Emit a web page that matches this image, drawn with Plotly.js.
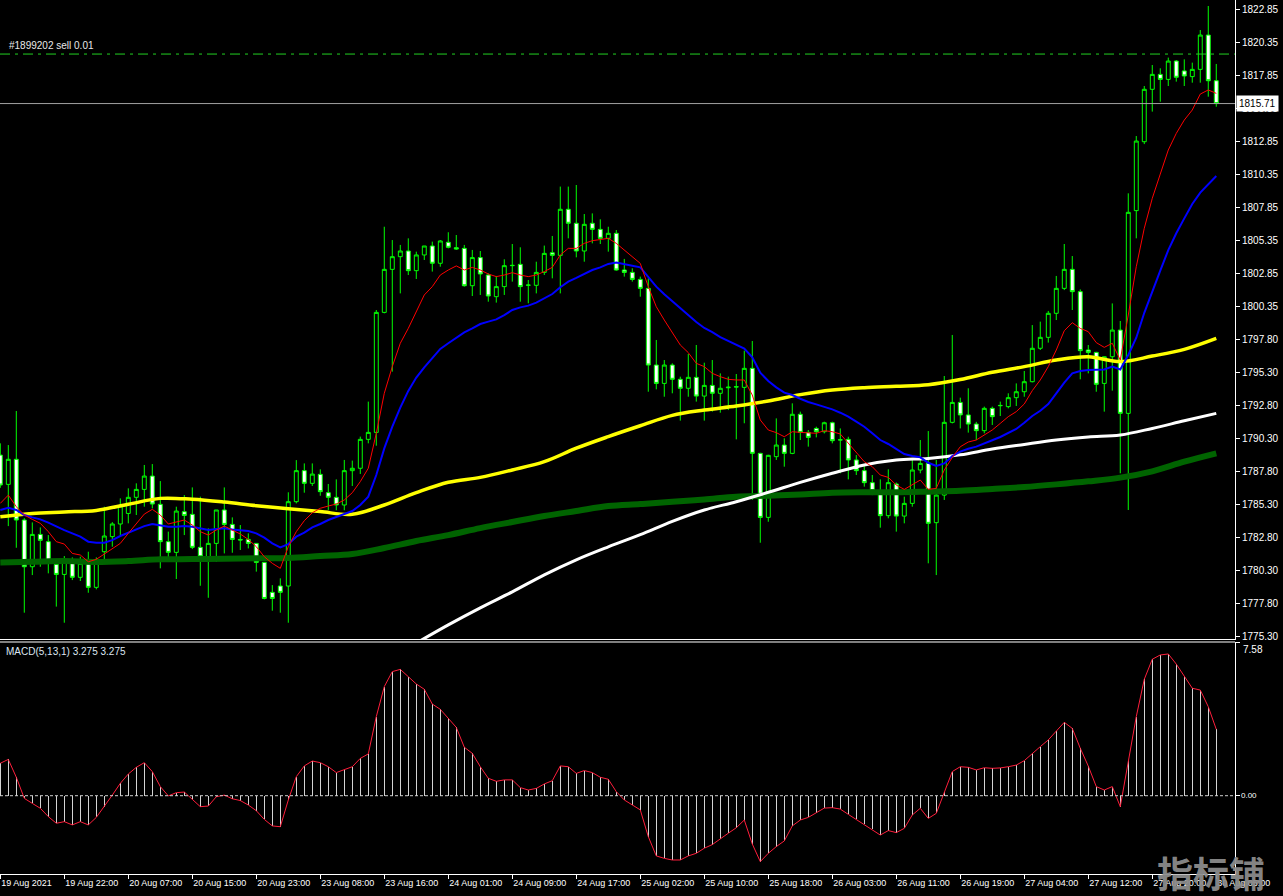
<!DOCTYPE html>
<html><head><meta charset="utf-8">
<script src="https://cdn.plot.ly/plotly-3.0.1.min.js"></script>
<style>html,body{margin:0;padding:0;background:#000;overflow:hidden}#chart{width:1283px;height:896px}</style>
</head><body><div id="chart"></div>
<script>
// ---- data (H1 XAUUSD style chart) ----
const barOpen = [
1789.08,1786.86,1788.76,1784.16,1780.62,1783.07,1782.52,1780.80,1780.04,1781.00,
1779.82,1780.88,1779.06,1781.76,1782.90,1783.86,1784.66,1785.88,1786.48,1787.49,
1785.35,1782.52,1781.71,1784.79,1784.59,1782.09,1781.38,1782.39,1784.92,1783.83,
1782.69,1782.69,1782.39,1780.95,1778.68,1779.16,1779.16,1785.55,1787.90,1786.94,
1787.62,1786.23,1785.88,1785.30,1787.90,1788.08,1790.27,1790.80,1799.89,1803.15,
1804.11,1804.54,1803.05,1804.24,1804.92,1803.61,1805.20,1804.79,1804.74,1801.91,
1804.04,1802.72,1801.08,1801.84,1803.43,1803.53,1801.94,1801.94,1802.92,1804.41,
1804.21,1807.70,1806.64,1804.54,1806.64,1806.18,1805.50,1805.88,1803.10,1802.92,
1802.39,1801.71,1795.90,1794.51,1795.90,1794.82,1794.14,1794.97,1793.55,1794.36,
1793.76,1794.18,1794.26,1794.21,1795.65,1789.21,1784.36,1788.96,1789.84,1789.21,
1792.17,1790.80,1791.10,1790.85,1791.53,1790.22,1790.27,1788.71,1787.90,1786.99,
1786.38,1784.49,1786.89,1784.46,1785.42,1787.95,1788.45,1783.96,1786.05,1791.56,
1793.07,1792.12,1791.43,1790.93,1792.62,1792.82,1792.75,1793.43,1793.88,1794.64,
1797.17,1798.00,1799.82,1801.71,1803.15,1801.46,1797.04,1796.86,1794.51,1796.53,
1798.55,1792.24,1807.60,1812.82,1816.79,1817.92,1817.54,1818.93,1818.18,1817.75,
1818.30,1820.90,1817.44];
const barHigh = [
1789.97,1789.84,1792.42,1784.30,1783.98,1783.60,1783.02,1781.10,1781.43,1781.33,
1781.38,1781.76,1781.33,1785.17,1784.00,1785.80,1786.56,1786.94,1788.33,1788.40,
1787.11,1783.28,1785.17,1786.05,1786.63,1785.93,1783.53,1784.92,1786.63,1784.36,
1783.78,1783.15,1782.40,1780.95,1779.23,1779.74,1786.26,1788.70,1788.45,1788.45,
1788.00,1786.89,1787.24,1788.71,1788.66,1790.48,1793.13,1800.07,1806.38,1805.37,
1805.00,1805.50,1804.49,1804.92,1805.25,1805.37,1805.96,1805.75,1805.00,1804.62,
1804.54,1802.85,1802.65,1803.91,1805.07,1804.82,1802.34,1803.73,1804.95,1805.68,
1809.42,1809.42,1809.54,1807.34,1807.39,1806.94,1806.38,1806.13,1803.94,1803.23,
1802.60,1802.47,1797.80,1796.28,1796.03,1795.02,1796.74,1797.42,1796.08,1796.28,
1795.27,1795.02,1795.22,1796.99,1797.72,1789.25,1789.10,1791.86,1790.35,1793.00,
1792.37,1790.98,1791.23,1791.61,1791.61,1791.10,1790.47,1789.08,1788.25,1787.57,
1787.24,1788.00,1787.00,1785.93,1788.71,1790.22,1790.90,1788.71,1795.07,1798.18,
1793.43,1794.14,1791.60,1792.75,1792.75,1793.13,1793.76,1794.51,1795.45,1798.93,
1799.19,1800.00,1802.65,1805.07,1804.16,1801.63,1797.42,1796.90,1796.55,1800.57,
1799.24,1808.91,1813.25,1817.04,1818.63,1818.38,1819.19,1819.01,1819.06,1818.81,
1821.28,1823.10,1818.71];
const barLow = [
1786.60,1783.70,1782.06,1777.14,1779.99,1780.62,1780.12,1777.60,1776.38,1779.61,
1779.54,1778.65,1778.91,1780.88,1782.14,1783.02,1783.91,1784.54,1785.17,1785.04,
1780.50,1781.33,1779.69,1783.02,1781.96,1779.18,1778.27,1781.00,1781.63,1781.68,
1781.89,1782.01,1780.25,1778.15,1777.29,1777.14,1776.38,1785.42,1786.23,1786.74,
1786.00,1784.92,1784.90,1784.90,1786.74,1787.65,1789.97,1789.79,1799.82,1795.40,
1801.33,1802.72,1802.42,1803.86,1802.98,1803.35,1804.74,1804.62,1801.84,1801.13,
1801.21,1800.70,1800.63,1801.21,1802.22,1800.70,1800.58,1801.33,1802.72,1802.47,
1801.33,1805.50,1804.06,1803.73,1805.12,1805.07,1804.49,1803.05,1802.60,1802.22,
1801.08,1793.88,1794.06,1793.50,1793.76,1791.69,1793.50,1793.13,1791.69,1792.37,
1792.29,1792.49,1790.27,1791.49,1785.68,1782.44,1784.03,1788.71,1788.20,1789.15,
1790.22,1789.72,1790.42,1790.72,1789.97,1787.70,1787.24,1787.57,1786.69,1786.05,
1783.58,1784.29,1783.28,1783.91,1785.17,1787.70,1780.88,1779.99,1785.68,1791.48,
1791.10,1790.78,1790.22,1790.73,1791.36,1792.04,1792.62,1792.80,1793.50,1794.59,
1797.04,1797.60,1799.31,1801.58,1800.07,1794.82,1795.27,1793.88,1792.37,1793.96,
1787.70,1784.92,1805.50,1812.64,1815.10,1815.85,1817.04,1817.37,1817.04,1817.29,
1817.29,1816.23,1815.47];
const barClose = [
1786.81,1788.76,1784.16,1780.62,1783.07,1782.62,1780.88,1780.04,1781.13,1779.82,
1780.88,1779.06,1780.88,1782.95,1783.86,1785.22,1785.88,1786.48,1787.49,1785.37,
1782.52,1781.71,1784.84,1784.51,1782.09,1781.38,1782.39,1784.92,1783.83,1782.69,
1782.65,1782.39,1780.95,1778.22,1778.22,1778.68,1785.55,1787.90,1786.94,1787.64,
1786.31,1785.88,1785.30,1787.90,1788.08,1790.27,1790.80,1799.89,1803.15,1804.11,
1804.54,1803.05,1804.24,1804.92,1803.61,1805.30,1804.82,1804.69,1801.91,1804.04,
1802.80,1801.13,1801.84,1803.43,1803.45,1801.84,1801.96,1802.92,1804.36,1804.21,
1807.70,1806.64,1804.54,1806.56,1806.18,1805.50,1805.88,1803.10,1802.92,1802.39,
1801.71,1795.90,1794.51,1795.90,1794.82,1794.14,1794.97,1793.55,1794.36,1793.76,
1794.14,1794.22,1794.24,1795.65,1789.21,1784.36,1789.06,1789.84,1789.21,1792.17,
1790.80,1790.42,1790.85,1791.53,1790.17,1790.24,1788.71,1787.90,1786.99,1786.38,
1784.49,1786.99,1784.46,1785.42,1787.95,1788.45,1783.91,1786.05,1791.56,1793.07,
1792.12,1791.43,1790.93,1792.62,1791.99,1792.84,1793.43,1793.88,1794.64,1797.17,
1798.00,1799.82,1801.71,1803.15,1801.46,1796.99,1796.86,1794.44,1796.53,1798.55,
1792.24,1807.47,1812.87,1816.79,1817.92,1817.54,1818.93,1817.70,1817.80,1818.30,
1820.90,1817.44,1815.71];

// fast MA (red) and mid MA (blue), one value per bar
const maRed = [
1785.42,1786.05,1785.17,1784.54,1784.21,1783.91,1783.28,1782.52,1782.34,1781.63,
1781.51,1781.00,1781.18,1781.58,1781.94,1782.39,1783.15,1783.91,1784.61,1784.97,
1784.54,1783.86,1784.03,1784.16,1783.78,1783.28,1783.02,1783.40,1783.70,1783.40,
1783.10,1782.69,1782.14,1781.38,1780.88,1780.50,1782.14,1783.28,1784.11,1784.71,
1785.05,1785.22,1785.37,1785.68,1786.23,1787.07,1788.08,1790.73,1793.76,1795.78,
1797.55,1798.68,1799.95,1801.21,1801.84,1802.72,1803.10,1803.41,1803.10,1803.30,
1803.10,1802.80,1802.60,1802.72,1802.90,1802.72,1802.60,1802.72,1802.98,1803.30,
1804.24,1804.74,1804.74,1805.12,1805.32,1805.43,1805.50,1805.12,1804.62,1804.08,
1803.60,1801.84,1800.32,1799.31,1798.35,1797.42,1796.84,1796.03,1795.78,1795.27,
1795.02,1794.82,1794.77,1794.77,1793.63,1791.74,1790.98,1790.78,1790.47,1790.85,
1790.80,1790.78,1790.73,1790.93,1790.85,1790.68,1789.97,1789.21,1788.58,1788.20,
1787.57,1787.39,1786.81,1786.48,1786.81,1787.19,1786.48,1786.56,1787.95,1788.90,
1789.71,1790.07,1790.22,1790.62,1790.98,1791.48,1791.99,1792.37,1792.95,1793.96,
1794.77,1795.78,1797.04,1798.50,1799.11,1798.68,1798.43,1797.60,1797.24,1797.55,
1796.28,1799.69,1803.35,1806.26,1808.53,1810.37,1812.19,1813.45,1814.46,1815.22,
1816.43,1816.74,1816.48];
const maBlue = [
1784.92,1785.09,1784.92,1784.54,1784.36,1784.21,1783.96,1783.65,1783.40,1783.15,
1782.90,1782.52,1782.44,1782.44,1782.64,1782.95,1783.20,1783.40,1783.70,1783.86,
1783.78,1783.65,1783.65,1783.70,1783.65,1783.53,1783.40,1783.48,1783.53,1783.45,
1783.40,1783.33,1783.15,1782.82,1782.39,1782.09,1782.34,1782.90,1783.20,1783.60,
1783.86,1784.16,1784.39,1784.61,1784.84,1785.30,1785.93,1787.57,1789.59,1791.23,
1792.67,1793.94,1794.95,1795.73,1796.46,1797.12,1797.55,1798.00,1798.38,1798.68,
1799.01,1799.19,1799.36,1799.69,1800.07,1800.27,1800.40,1800.63,1800.93,1801.28,
1801.79,1802.22,1802.50,1802.80,1803.10,1803.30,1803.56,1803.66,1803.56,1803.43,
1803.30,1802.60,1801.84,1801.26,1800.73,1800.17,1799.66,1799.16,1798.71,1798.40,
1798.02,1797.72,1797.42,1797.14,1796.48,1795.32,1794.69,1794.21,1793.81,1793.63,
1793.35,1793.10,1792.92,1792.75,1792.54,1792.29,1791.99,1791.61,1791.23,1790.73,
1790.22,1789.92,1789.57,1789.16,1789.01,1788.91,1788.50,1788.25,1788.45,1789.00,
1789.34,1789.56,1789.72,1789.94,1790.20,1790.45,1790.73,1791.06,1791.53,1792.04,
1792.44,1792.95,1793.76,1794.57,1795.27,1795.45,1795.52,1795.52,1795.57,1795.78,
1795.57,1796.66,1797.97,1799.86,1801.53,1803.05,1804.61,1805.88,1807.01,1808.10,
1808.96,1809.59,1810.22];

// slow MAs read every 4th bar
const slowBars = [0,4,8,12,16,20,24,28,32,36,40,44,48,52,56,60,64,68,72,76,80,84,88,92,96,100,104,108,112,116,120,124,128,132,136,140,144,148,152];
const maYellow = [1784.41,1784.66,1784.77,1784.89,1785.35,1785.80,1785.73,1785.52,1785.25,1785.02,1784.80,1784.60,1785.30,1786.23,1787.02,1787.39,1787.95,1788.58,1789.60,1790.48,1791.30,1792.09,1792.49,1792.80,1793.18,1793.66,1794.01,1794.19,1794.29,1794.41,1794.80,1795.35,1795.78,1796.28,1796.53,1796.16,1796.58,1797.09,1797.92];
const maWhite = [null,null,null,null,null,null,null,null,null,null,null,null,null,1774.84,1776.22,1777.51,1778.72,1780.01,1781.15,1782.13,1783.05,1784.06,1784.92,1785.55,1786.26,1787.01,1787.70,1788.33,1788.71,1788.83,1789.10,1789.54,1789.89,1790.22,1790.45,1790.60,1791.10,1791.68,1792.24];
const maGreen = [1780.95,1781.00,1781.05,1780.98,1781.05,1781.18,1781.20,1781.23,1781.26,1781.28,1781.43,1781.58,1782.04,1782.57,1783.02,1783.55,1784.01,1784.46,1784.84,1785.22,1785.37,1785.55,1785.72,1785.93,1786.00,1786.10,1786.23,1786.26,1786.26,1786.31,1786.37,1786.51,1786.66,1786.86,1787.09,1787.37,1787.85,1788.58,1789.21];

// MACD(5,13,1): main = signal
const macdMain = [
1.60,1.79,0.91,-0.13,-0.38,-0.62,-1.03,-1.36,-1.28,-1.44,
-1.28,-1.44,-1.07,-0.54,0.03,0.61,1.07,1.40,1.63,1.19,
0.45,-0.01,0.15,0.18,-0.18,-0.54,-0.51,-0.05,0.03,-0.15,
-0.24,-0.46,-0.74,-1.17,-1.49,-1.53,-0.21,0.94,1.47,1.71,
1.63,1.43,1.14,1.27,1.43,1.84,2.06,3.90,5.38,6.12,
6.23,5.87,5.51,5.25,4.52,4.26,3.82,3.37,2.39,2.09,
1.43,0.86,0.71,0.78,0.78,0.40,0.28,0.36,0.58,0.74,
1.47,1.43,1.10,1.24,1.14,0.91,0.81,0.20,-0.21,-0.46,
-0.70,-2.02,-2.97,-3.09,-3.17,-3.17,-2.97,-2.84,-2.59,-2.41,
-2.15,-1.85,-1.58,-1.20,-2.38,-3.25,-2.84,-2.51,-2.23,-1.49,
-1.20,-1.07,-0.84,-0.61,-0.59,-0.66,-0.92,-1.17,-1.41,-1.66,
-1.94,-1.72,-1.82,-1.61,-0.95,-0.62,-1.12,-0.87,0.20,1.19,
1.43,1.40,1.27,1.38,1.35,1.37,1.43,1.51,1.73,2.09,
2.42,2.75,3.21,3.62,3.32,2.34,1.46,0.45,0.28,0.45,
-0.54,1.76,3.90,5.74,6.73,6.94,6.99,6.49,5.87,5.30,
5.21,4.39,3.275];
const macdSignal = macdMain.slice();

const timeTickBars = [0,8,16,24,32,40,48,56,64,72,80,88,96,104,112,120,128,136,144,152];
const timeTickLabels = ["19 Aug 2021","19 Aug 22:00","20 Aug 07:00","20 Aug 15:00","20 Aug 23:00","23 Aug 08:00","23 Aug 16:00","24 Aug 01:00","24 Aug 09:00","24 Aug 17:00","25 Aug 02:00","25 Aug 10:00","25 Aug 18:00","26 Aug 03:00","26 Aug 11:00","26 Aug 19:00","27 Aug 04:00","27 Aug 12:00","27 Aug 20:00","30 Aug 05:00"];
const priceTickValues = [1822.85,1820.35,1817.85,1815.35,1812.85,1810.35,1807.85,1805.35,1802.85,1800.35,1797.85,1795.35,1792.85,1790.35,1787.85,1785.35,1782.85,1780.35,1777.85,1775.35];
const priceTickLabels = ["1822.85","1820.35","1817.85","1815.35","1812.85","1810.35","1807.85","1805.35","1802.85","1800.35","1797.80","1795.30","1792.80","1790.30","1787.80","1785.30","1782.80","1780.30","1777.80","1775.30"];
const currentPrice = 1815.71;
const orderPrice = 1819.46;
const orderText = "#1899202 sell 0.01";
const macdTitle = "MACD(5,13,1) 3.275 3.275";
const macdTop = 7.58;
const watermark = "指标铺";

// ---- drawing ----
const barIdx = barOpen.map((_, i) => i);
const FONT = 'Liberation Sans, Arial, sans-serif';

const traces = [
  {type:'candlestick', x:barIdx, open:barOpen, high:barHigh, low:barLow, close:barClose,
   xaxis:'x2', yaxis:'y', whiskerwidth:0, hoverinfo:'skip',
   increasing:{line:{color:'#00ff00', width:1}, fillcolor:'#000000'},
   decreasing:{line:{color:'#00ff00', width:1}, fillcolor:'#ffffff'}},
  {type:'scatter', mode:'lines', x:slowBars, y:maGreen, xaxis:'x2', yaxis:'y', line:{color:'#006400', width:6, shape:'spline', smoothing:1}, hoverinfo:'skip'},
  {type:'scatter', mode:'lines', x:slowBars, y:maWhite, xaxis:'x2', yaxis:'y', line:{color:'#ffffff', width:3, shape:'spline', smoothing:1}, hoverinfo:'skip'},
  {type:'scatter', mode:'lines', x:slowBars, y:maYellow, xaxis:'x2', yaxis:'y', line:{color:'#ffff00', width:3.5, shape:'spline', smoothing:1}, hoverinfo:'skip'},
  {type:'scatter', mode:'lines', x:barIdx, y:maBlue, xaxis:'x2', yaxis:'y', line:{color:'#0000ff', width:2}, hoverinfo:'skip'},
  {type:'scatter', mode:'lines', x:barIdx, y:maRed, xaxis:'x2', yaxis:'y', line:{color:'#ff0000', width:1}, hoverinfo:'skip'},
  {type:'bar', x:barIdx, y:macdMain, xaxis:'x', yaxis:'y2', width:0.13, marker:{color:'#d4d4d4', line:{width:0}}, hoverinfo:'skip'},
  {type:'scatter', mode:'lines', x:barIdx, y:macdSignal, xaxis:'x', yaxis:'y2', line:{color:'#ff1e3c', width:1}, hoverinfo:'skip'}
];

const PLOT_H = 874;
const layout = {
  width:1283, height:896,
  margin:{l:0, r:48, t:0, b:22, pad:0},
  paper_bgcolor:'#000000', plot_bgcolor:'#000000',
  showlegend:false, bargap:0,
  font:{family:FONT, size:9, color:'#ffffff'},
  xaxis:{domain:[0,1], anchor:'y2', range:[-0.0375,154.34], fixedrange:true,
    showgrid:false, zeroline:false, showline:true, linecolor:'#ffffff', linewidth:1,
    ticks:'outside', ticklen:4, tickcolor:'#ffffff', tickwidth:1, tickangle:0,
    tickmode:'array', tickvals:timeTickBars, ticktext:timeTickLabels,
    ticklabelposition:'outside right', tickfont:{family:FONT, size:9, color:'#ffffff'},
    rangeslider:{visible:false}},
  xaxis2:{domain:[0,1], anchor:'y', matches:'x', showgrid:false, zeroline:false,
    showline:true, linecolor:'#ffffff', linewidth:1, showticklabels:false, ticks:'',
    rangeslider:{visible:false}},
  yaxis:{domain:[235/PLOT_H,1], anchor:'x2', side:'right', range:[1775.147,1823.555],
    showgrid:false, zeroline:false, showline:true, linecolor:'#ffffff', linewidth:1,
    ticks:'outside', ticklen:4, tickcolor:'#ffffff',
    tickmode:'array', tickvals:priceTickValues, ticktext:priceTickLabels,
    tickfont:{family:FONT, size:10, color:'#ffffff'}},
  yaxis2:{domain:[0,232/PLOT_H], anchor:'x', side:'right', range:[-3.861, macdTop],
    showgrid:false, zeroline:false, showline:true, linecolor:'#ffffff', linewidth:1,
    ticks:'outside', ticklen:4, tickcolor:'#ffffff',
    tickmode:'array', tickvals:[macdTop, 0], ticktext:['',''], showticklabels:false},
  shapes:[
    {type:'line', xref:'paper', x0:0, x1:1, yref:'y', y0:currentPrice, y1:currentPrice, line:{color:'#a0a0a0', width:1}},
    {type:'line', xref:'paper', x0:0, x1:1, yref:'y', y0:orderPrice, y1:orderPrice, line:{color:'#22d022', width:1, dash:'10px,5px,3px,5px'}},
    {type:'line', xref:'paper', x0:0, x1:1, yref:'y2', y0:0, y1:0, line:{color:'#cfcfcf', width:1, dash:'3px,2px'}},
    {type:'line', xref:'paper', x0:0, x1:1, yref:'paper', y0:232/PLOT_H, y1:232/PLOT_H, line:{color:'#ffffff', width:1}}
  ],
  annotations:[
    {text:orderText, xref:'paper', x:7/1235, xanchor:'left', yref:'y', y:orderPrice, yanchor:'bottom', yshift:1,
     showarrow:false, font:{family:FONT, size:10, color:'#e8e8e8'}},
    {text:currentPrice.toFixed(2), xref:'paper', x:1, xshift:1, xanchor:'left', yref:'y', y:currentPrice, yanchor:'middle',
     showarrow:false, bgcolor:'#ffffff', borderpad:2, font:{family:FONT, size:10, color:'#000000'}},
    {text:macdTitle, xref:'paper', x:4/1235, xanchor:'left', yref:'y2', y:macdTop, yanchor:'top', yshift:-2,
     showarrow:false, font:{family:FONT, size:10, color:'#dde6f2'}},
    {text:macdTop.toFixed(2), xref:'paper', x:1, xshift:6, xanchor:'left', yref:'y2', y:macdTop, yanchor:'top', yshift:0,
     showarrow:false, font:{family:FONT, size:10, color:'#ffffff'}},
    {text:'0.00', xref:'paper', x:1, xshift:4, xanchor:'left', yref:'y2', y:0, yanchor:'middle',
     showarrow:false, font:{family:FONT, size:8, color:'#ffffff'}},
    {text:'<b>'+watermark+'</b>', xref:'paper', x:1211/1235, xanchor:'center', yref:'paper', y:2/PLOT_H, yanchor:'middle',
     showarrow:false, font:{family:'Noto Sans CJK SC, sans-serif', size:36, color:'rgba(140,140,140,0.95)'}}
  ]
};

Plotly.newPlot('chart', traces, layout, {staticPlot:true, displayModeBar:false});
</script>
</body></html>
